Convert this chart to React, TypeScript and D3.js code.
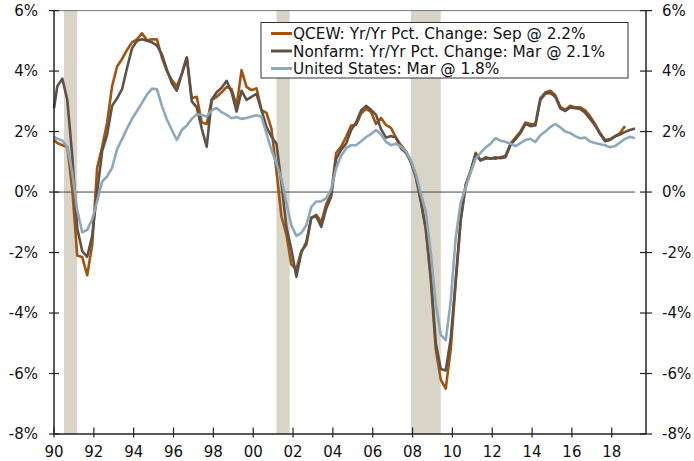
import React from "react";
import * as d3 from "d3";

const YEARS = d3.range(1990, 2020);
const QUARTER_MONTHS = [3, 6, 9, 12];
// Jan 1990, then quarterly (Mar/Jun/Sep/Dec) through Mar 2019
const DATES: string[] = ["1990-01"];
YEARS.forEach((y) =>
  QUARTER_MONTHS.forEach((m) => {
    if (y < 2019 || m === 3) DATES.push(`${y}-${String(m).padStart(2, "0")}`);
  })
);

const QCEW: (number | null)[] = [
  1.72,
  1.62, 1.55, 1.5, 0.1,
  -2.1, -2.15, -2.75, -1.75,
  0.8, 1.5, 2.3, 3.5,
  4.15, 4.4, 4.7, 4.95,
  5.05, 5.25, 5.02, 5.05,
  5.05, 4.45, 4.0, 3.7,
  3.5, 3.9, 4.45, 3.1,
  3.15, 2.3, 2.25, 3.05,
  3.15, 3.3, 3.48, 3.4,
  2.85, 4.03, 3.48, 3.37,
  3.43, 2.71, 2.62, 2.1,
  0.7, -0.8, -1.4, -2.4,
  -2.55, -1.95, -1.75, -0.85,
  -0.75, -1.0, -0.4, -0.05,
  1.3, 1.5, 1.83, 2.2,
  2.22, 2.6, 2.75, 2.65,
  2.25, 2.45, 2.22, 2.12,
  1.8, 1.55, 1.35, 1.0,
  0.5, -0.3, -1.25, -2.9,
  -5.2, -6.2, -6.5, -5.2,
  -3.0, -0.95, 0.25, 0.7,
  1.3, 1.05, 1.1, 1.12,
  1.1, 1.15, 1.2, 1.6,
  1.8, 2.0, 2.3, 2.25,
  2.25, 3.1, 3.3, 3.35,
  3.2, 2.82, 2.72, 2.85,
  2.8, 2.8, 2.7, 2.5,
  2.25, 1.95, 1.72, 1.75,
  1.85, 1.95, 2.18, null,
  null,
];

const NONFARM: (number | null)[] = [
  2.77,
  3.5, 3.75, 3.05, 1.2,
  -1.2, -1.95, -2.14, -1.45,
  0.0, 1.35, 1.9, 2.85,
  3.1, 3.4, 4.1, 4.75,
  5.0, 5.05, 5.0, 4.95,
  4.85, 4.55, 4.05, 3.6,
  3.35, 3.9, 4.45, 3.0,
  2.8, 2.1, 1.5, 3.05,
  3.3, 3.45, 3.68, 3.3,
  2.66, 3.35, 3.05, 3.15,
  3.25, 2.71, 2.16, 1.83,
  1.6, 0.3, -1.15, -1.9,
  -2.8, -2.0, -1.65, -0.85,
  -0.8, -1.15, -0.55, -0.15,
  1.1, 1.4, 1.6, 2.05,
  2.3, 2.7, 2.85, 2.72,
  2.55, 2.08, 1.8, 1.85,
  1.8, 1.45, 1.3, 1.0,
  0.5, -0.3, -1.2, -2.8,
  -5.0, -5.85, -5.9, -4.85,
  -2.9, -0.9, 0.2, 0.68,
  1.25, 1.05, 1.15, 1.1,
  1.15, 1.12, 1.15, 1.55,
  1.75, 1.95, 2.25, 2.18,
  2.2, 3.05, 3.25, 3.28,
  3.15, 2.77, 2.68, 2.8,
  2.77, 2.75, 2.62, 2.42,
  2.2, 1.92, 1.68, 1.72,
  1.84, 1.9, 1.99, 2.05,
  2.1,
];

const US: (number | null)[] = [
  1.83,
  1.76, 1.7, 1.5, 0.65,
  -0.6, -1.33, -1.25, -0.9,
  -0.3, 0.35, 0.52, 0.8,
  1.42, 1.75, 2.1, 2.42,
  2.68, 2.95, 3.22, 3.42,
  3.4, 2.85, 2.4, 2.05,
  1.72, 2.05, 2.2, 2.42,
  2.57, 2.55, 2.5, 2.7,
  2.78, 2.64, 2.55, 2.44,
  2.48, 2.42, 2.45, 2.5,
  2.54, 2.49, 1.94, 1.39,
  0.95, 0.45, -0.35, -1.1,
  -1.45, -1.35, -1.1, -0.5,
  -0.31, -0.31, -0.2, 0.1,
  0.8, 1.2, 1.45, 1.55,
  1.55, 1.68, 1.82, 1.92,
  2.05, 1.9, 1.66, 1.55,
  1.6, 1.5, 1.35, 1.05,
  0.6, -0.05, -0.65, -2.0,
  -3.7, -4.72, -4.9, -3.6,
  -1.5, -0.35, 0.15, 0.65,
  1.1, 1.3, 1.47, 1.6,
  1.78, 1.7, 1.66, 1.6,
  1.52, 1.62, 1.72, 1.76,
  1.66, 1.88, 2.0, 2.15,
  2.25, 2.14, 2.0, 1.95,
  1.85, 1.78, 1.8, 1.67,
  1.62, 1.58, 1.55, 1.48,
  1.52, 1.64, 1.76, 1.83,
  1.78,
];

const RECESSION_START = ["1990-07", "2001-03", "2007-12"];
const RECESSION_END = ["1991-03", "2001-11", "2009-06"];

const Y_TICKS = [6, 4, 2, 0, -2, -4, -6, -8];
const X_TICKS = [1990, 1992, 1994, 1996, 1998, 2000, 2002, 2004, 2006, 2008, 2010, 2012, 2014, 2016, 2018];

const SERIES_NAMES = [
  "QCEW: Yr/Yr Pct. Change: Sep @ 2.2%",
  "Nonfarm: Yr/Yr Pct. Change: Mar @ 2.1%",
  "United States: Mar @ 1.8%",
];
const SERIES_COLORS = ["#A0540F", "#5E5248", "#8DA8B9"];

const toYear = (s: string) => {
  const [y, m] = s.split("-").map(Number);
  return y + (m - 1) / 12;
};

const W = 694;
const H = 461;
const FONT = "'DejaVu Sans', Verdana, sans-serif";

export default function App() {
  const x = d3.scaleLinear().domain([1990, 2019.72]).range([54, 646]);
  const y = d3.scaleLinear().domain([-8, 6]).range([434, 10.6]);
  const t = DATES.map(toYear);

  const line = d3
    .line<number | null>()
    .defined((d) => d !== null)
    .x((_, i) => x(t[i]))
    .y((d) => y(d as number))
    .curve(d3.curveLinear);

  const allSeries = [QCEW, NONFARM, US];
  const x0 = x.range()[0];
  const x1 = x.range()[1];
  const yTop = y(6);
  const yBot = y(-8);

  return (
    <svg
      width={W}
      height={H}
      style={{ position: "absolute", left: 0, top: 0, background: "#fff" }}
      fontFamily={FONT}
    >
      {RECESSION_START.map((s, i) => (
        <rect
          key={s}
          x={x(toYear(s))}
          y={yTop}
          width={x(toYear(RECESSION_END[i])) - x(toYear(s))}
          height={yBot - yTop}
          fill="#D8D4C8"
        />
      ))}
      {/* top border */}
      <line x1={x0} x2={x1} y1={yTop} y2={yTop} stroke="#777" strokeWidth={1} />
      {/* zero line */}
      <line x1={x0} x2={x(toYear("2019-03"))} y1={y(0)} y2={y(0)} stroke="#444" strokeWidth={1} />

      {allSeries.map((s, i) => (
        <path
          key={i}
          d={line(s) || ""}
          fill="none"
          stroke={SERIES_COLORS[i]}
          strokeWidth={2.6}
          strokeLinejoin="round"
        />
      ))}

      {/* axes */}
      <line x1={x0} x2={x0} y1={yTop} y2={yBot} stroke="#222" strokeWidth={1.5} />
      <line x1={x1} x2={x1} y1={yTop} y2={yBot} stroke="#222" strokeWidth={1.5} />
      <line x1={x0} x2={x1} y1={yBot} y2={yBot} stroke="#222" strokeWidth={1.5} />

      {Y_TICKS.map((v) => (
        <g key={v}>
          <line x1={x0 - 5} x2={x0 + 5} y1={y(v)} y2={y(v)} stroke="#222" strokeWidth={1.2} />
          <line x1={x1 - 6} x2={x1 + 6} y1={y(v)} y2={y(v)} stroke="#222" strokeWidth={1.2} />
          <text x={38} y={y(v)} dy="0.36em" textAnchor="end" fontSize={15} fill="#111">
            {`${v}%`}
          </text>
          <text x={662} y={y(v)} dy="0.36em" textAnchor="start" fontSize={15} fill="#111">
            {`${v}%`}
          </text>
        </g>
      ))}

      {X_TICKS.map((v) => (
        <g key={v}>
          <line x1={x(v)} x2={x(v)} y1={yBot - 6.5} y2={yBot + 3.5} stroke="#222" strokeWidth={1.2} />
          <text x={x(v)} y={457} textAnchor="middle" fontSize={15} fill="#111">
            {String(v % 100).padStart(2, "0")}
          </text>
        </g>
      ))}

      {/* legend */}
      <rect x={261} y={22.5} width={367} height={55.5} fill="#fff" stroke="#333" strokeWidth={1} />
      {SERIES_NAMES.map((n, i) => {
        const ly = 33.5 + i * 17.5;
        return (
          <g key={n}>
            <line x1={271} x2={292} y1={ly} y2={ly} stroke={SERIES_COLORS[i]} strokeWidth={3} />
            <text x={293} y={ly} dy="0.36em" fontSize={15.3} fill="#111">
              {n}
            </text>
          </g>
        );
      })}
    </svg>
  );
}
